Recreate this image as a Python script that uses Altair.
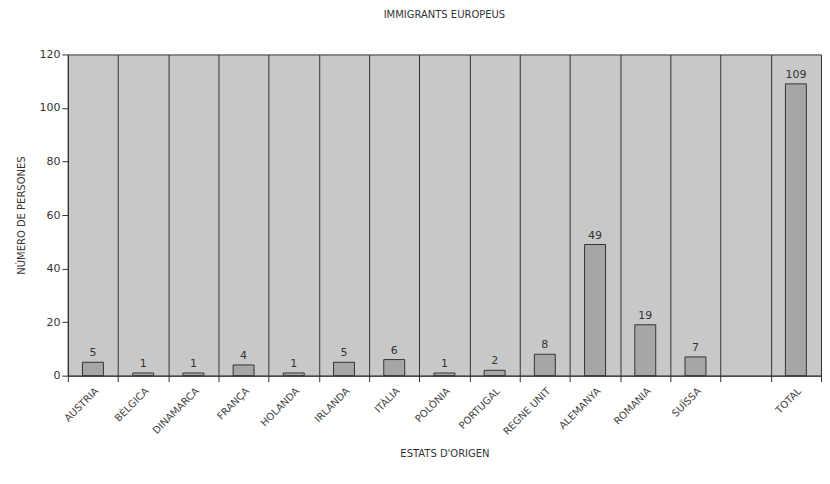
import altair as alt
import pandas as pd

categories = ["AUSTRIA", "BÈLGICA", "DINAMARCA", "FRANÇA", "HOLANDA", "IRLANDA",
              "ITÀLIA", "POLÒNIA", "PORTUGAL", "REGNE UNIT", "ALEMANYA", "ROMANIA",
              "SUÏSSA", " ", "TOTAL"]
values = [5, 1, 1, 4, 1, 5, 6, 1, 2, 8, 49, 19, 7, None, 109]

df = pd.DataFrame({"estat": categories, "persones": values})
df = df.dropna()

x = alt.X("estat:N", sort=categories,
          scale=alt.Scale(domain=categories, paddingInner=0, paddingOuter=0, round=False),
          axis=alt.Axis(title="ESTATS D'ORIGEN", labelAngle=-45, tickBand="extent",
                        grid=True, gridColor="#333333", gridWidth=1, gridOpacity=1,
                        domainColor="#333333", tickColor="#333333", tickSize=6,
                        labelFont="DejaVu Sans", labelFontSize=10, labelColor="#444444",
                        titleFont="DejaVu Sans", titleFontSize=10, titleFontWeight="normal",
                        titleColor="#333333", titlePadding=12, labelPadding=4))
y = alt.Y("persones:Q",
          scale=alt.Scale(domain=[0, 120]),
          axis=alt.Axis(title="NÚMERO DE PERSONES", values=[0, 20, 40, 60, 80, 100, 120],
                        grid=False, domainColor="#333333", tickColor="#333333", tickSize=6,
                        labelFont="DejaVu Sans", labelFontSize=11, labelColor="#333333",
                        titleFont="DejaVu Sans", titleFontSize=10, titleFontWeight="normal",
                        titleColor="#333333", titlePadding=12))

bars = alt.Chart(df).mark_bar(size=21, color="#a6a6a6", stroke="#333333", strokeWidth=1).encode(x=x, y=y)
labels = alt.Chart(df).mark_text(dy=-9, font="DejaVu Sans", fontSize=11, color="#333333").encode(
    x=x, y=y, text="persones:Q")

chart = alt.layer(bars, labels).properties(
    width=755, height=322,
    padding={"left": 9, "top": 1, "right": 0, "bottom": 0},
    background="white",
    title=alt.TitleParams("IMMIGRANTS EUROPEUS", font="DejaVu Sans", fontSize=10,
                          fontWeight="normal", color="#333333", offset=29)
).configure_view(fill="#c8c8c8", stroke="#333333", strokeWidth=1)

chart.save("out.html", embed_options={"renderer": "svg", "actions": False})
